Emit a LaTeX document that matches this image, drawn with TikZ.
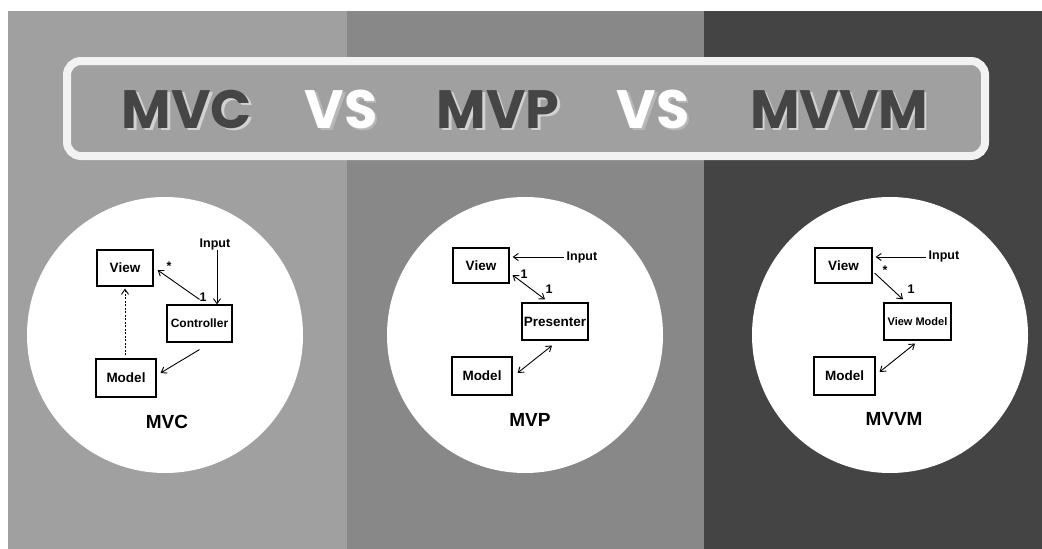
\documentclass[tikz,border=0pt]{standalone}
\usepackage{fontspec}
\setmainfont{Liberation Sans}
\newfontfamily\titlefont{Poppins}
\usetikzlibrary{arrows.meta}
\definecolor{bandA}{HTML}{A0A0A0}
\definecolor{bandB}{HTML}{888888}
\definecolor{bandC}{HTML}{444444}
\definecolor{ink}{HTML}{454545}
\definecolor{frame}{HTML}{F2F2F2}
\definecolor{inkshadow}{HTML}{D2D2D2}
\definecolor{whiteshadow}{HTML}{B8B8B8}

% word set with a soft drop shadow behind it: #1 shadow colour, #2 word
\newcommand\dropword[2]{\makebox[0pt][l]{\hspace{2.5pt}\raisebox{-2.5pt}{\textcolor{#1}{#2}}}#2}

\begin{document}
\begin{tikzpicture}[x=1pt,y=-1pt,
  ttl/.style={anchor=base,inner sep=0pt,font=\titlefont\bfseries\fontsize{54}{54}\selectfont},
  box/.style={draw=black,line width=1.1pt,fill=white,inner sep=0pt,
    font=\bfseries\fontsize{13.5}{14}\selectfont},
  lbl/.style={inner sep=0pt,font=\bfseries\fontsize{12.5}{13}\selectfont},
  diagcaption/.style={inner sep=0pt,font=\bfseries\fontsize{19}{20}\selectfont},
  arr/.style={line width=0.9pt,-{Straight Barb[length=5pt,width=7pt]}},
  darr/.style={line width=0.9pt,{Straight Barb[length=5pt,width=7pt]}-{Straight Barb[length=5pt,width=7pt]}},
  disc/.style={circle,fill=white,minimum size=276pt,inner sep=0pt}]

\useasboundingbox (0,0) rectangle (1042,549);
\fill[white] (0,0) rectangle (1042,549);

% three background bands
\fill[bandA] (8,11) rectangle (347,549);
\fill[bandB] (347,11) rectangle (704,549);
\fill[bandC] (704,11) rectangle (1042,549);

% title banner
\draw[frame,line width=8pt,fill=bandA,rounded corners=14pt] (67,61) rectangle (985,156);
\node[ttl,text=ink]   (t1) at (187,128) {\dropword{inkshadow}{MVC}};
\node[ttl,text=white] (t2) at (341,128) {\dropword{whiteshadow}{VS}};
\node[ttl,text=ink]   (t3) at (498,128) {\dropword{inkshadow}{MVP}};
\node[ttl,text=white] (t4) at (653,128) {\dropword{whiteshadow}{VS}};
\node[ttl,text=ink]   (t5) at (839,128) {\dropword{inkshadow}{MVVM}};

% ---------- MVC ----------
\node[disc] (cA) at (165,335) {};
\node[box,minimum width=56pt,minimum height=36pt] (viewA) at (125,268) {View};
\node[box,minimum width=65pt,minimum height=37pt,font=\bfseries\fontsize{12}{13}\selectfont] (ctlA) at (199.5,323.5) {Controller};
\node[box,minimum width=60pt,minimum height=38pt] (modelA) at (126,378) {Model};
\node[lbl] (inA) at (215,244) {Input};
\node[lbl] (starA) at (169,266) {*};
\node[lbl] (oneA) at (203,297) {1};
\node[diagcaption] (capA) at (167,422) {MVC};
\draw[arr] ([xshift=2pt]inA.south) -- ([xshift=2pt]inA.south |- ctlA.north);
\draw[arr] ([yshift=5pt]ctlA.north) -- ([xshift=4pt,yshift=-2pt]viewA.east);
\draw[arr] ([yshift=-7pt]ctlA.south) -- ([xshift=4pt,yshift=5pt]modelA.east);
\draw[arr,dash pattern=on 2pt off 1.5pt] ([xshift=-1pt,yshift=3pt]modelA.north) -- ([yshift=-2pt]viewA.south);

% ---------- MVP ----------
\node[disc] (cB) at (525,335) {};
\node[box,minimum width=56pt,minimum height=35pt] (viewB) at (481,265.5) {View};
\node[box,minimum width=66pt,minimum height=37pt] (presB) at (555,321.5) {Presenter};
\node[box,minimum width=60pt,minimum height=38pt] (modelB) at (482,376) {Model};
\node[lbl] (inB) at (582,257) {Input};
\node[lbl] (oneB1) at (524,274) {1};
\node[lbl] (oneB2) at (549,289) {1};
\node[diagcaption] (capB) at (530,420) {MVP};
\draw[arr] ([xshift=-3pt]inB.west) -- ([xshift=3pt]inB.west -| viewB.east);
\draw[darr] ([xshift=3pt,yshift=-9.5pt]viewB.east) -- ([xshift=-10pt,yshift=3pt]presB.north);
\draw[darr] ([xshift=5pt,yshift=3pt]modelB.east) -- ([xshift=-3pt,yshift=-5pt]presB.south);

% ---------- MVVM ----------
\node[disc] (cC) at (890,335) {};
\node[box,minimum width=57pt,minimum height=35pt] (viewC) at (843.5,265.5) {View};
\node[box,minimum width=67pt,minimum height=37pt,font=\bfseries\fontsize{11}{12}\selectfont] (vmC) at (917.5,321.5) {View Model};
\node[box,minimum width=61pt,minimum height=38pt] (modelC) at (844.5,376) {Model};
\node[lbl] (inC) at (944,256) {Input};
\node[lbl] (starC) at (885,270) {*};
\node[lbl] (oneC) at (911,289) {1};
\node[diagcaption] (capC) at (894,419) {MVVM};
\draw[arr] ([xshift=-3pt,yshift=-1pt]inC.west) -- ([xshift=3pt,yshift=-1pt]inC.west -| viewC.east);
\draw[arr] ([xshift=2pt,yshift=-7.5pt]viewC.east) -- ([xshift=-14.5pt,yshift=3pt]vmC.north);
\draw[darr] ([xshift=4pt,yshift=4pt]modelC.east) -- ([xshift=-2.5pt,yshift=-3pt]vmC.south);

\end{tikzpicture}
\end{document}
